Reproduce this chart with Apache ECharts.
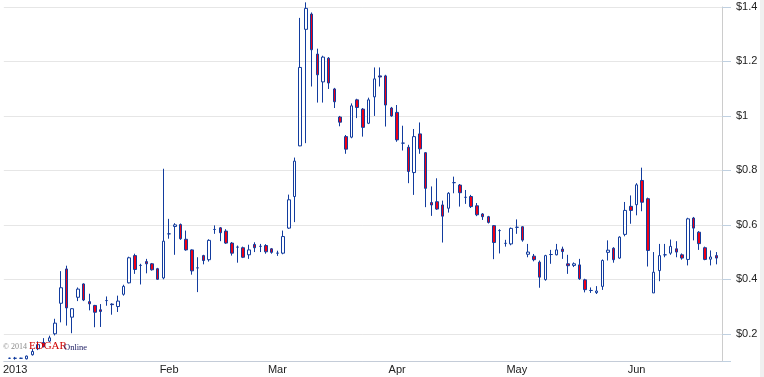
<!DOCTYPE html>
<html>
<head>
<meta charset="utf-8">
<title>Stock candles 2013</title>
<script src="https://cdn.jsdelivr.net/npm/echarts@6/dist/echarts.min.js"></script>
<style>
  html, body { margin: 0; padding: 0; background: #fff; }
  #chart { width: 764px; height: 377px; }
</style>
</head>
<body>
<div id="chart"></div>
<script>
// trading-day candles, index 0 = first session of 2013
let opens = [
  0.110, 0.110, 0.110, 0.108, 0.123, 0.145, 0.168, 0.173, 0.200, 0.312,
  0.438, 0.261, 0.334, 0.383, 0.318, 0.304, 0.288, 0.322, 0.309, 0.300,
  0.345, 0.387, 0.487, 0.451, 0.465, 0.457, 0.439, 0.405, 0.567, 0.594,
  0.601, 0.547, 0.508, 0.442, 0.487, 0.472, 0.583, 0.589, 0.577, 0.533,
  0.518, 0.516, 0.490, 0.528, 0.521, 0.524, 0.512, 0.496, 0.496, 0.588,
  0.704, 0.890, 1.318, 1.374, 1.227, 1.125, 1.212, 1.099, 0.996, 0.924,
  0.922, 1.059, 1.025, 0.973, 1.070, 1.147, 1.147, 1.029, 1.013, 0.900,
  0.885, 0.792, 0.934, 0.865, 0.682, 0.685, 0.673, 0.661, 0.755, 0.746,
  0.701, 0.704, 0.670, 0.640, 0.630, 0.597, 0.579, 0.532, 0.530, 0.591,
  0.593, 0.492, 0.485, 0.463, 0.399, 0.491, 0.490, 0.511, 0.457, 0.451,
  0.453, 0.398, 0.359, 0.351, 0.374, 0.499, 0.514, 0.478, 0.565, 0.668,
  0.674, 0.763, 0.696, 0.350, 0.432, 0.490, 0.496, 0.512, 0.490, 0.473,
  0.625, 0.573, 0.516, 0.474, 0.487
];
let closes = [
  0.110, 0.110, 0.110, 0.118, 0.135, 0.160, 0.153, 0.185, 0.239, 0.369,
  0.295, 0.292, 0.364, 0.324, 0.310, 0.279, 0.282, 0.322, 0.307, 0.320,
  0.374, 0.479, 0.436, 0.451, 0.457, 0.435, 0.400, 0.540, 0.567, 0.600,
  0.549, 0.508, 0.431, 0.442, 0.469, 0.543, 0.583, 0.571, 0.533, 0.496,
  0.518, 0.481, 0.508, 0.516, 0.521, 0.501, 0.499, 0.496, 0.557, 0.692,
  0.834, 1.178, 1.395, 1.243, 1.151, 1.216, 1.121, 1.052, 0.977, 0.878,
  1.037, 1.031, 0.958, 1.059, 1.136, 1.143, 1.040, 1.000, 0.912, 0.900,
  0.796, 0.924, 0.879, 0.734, 0.673, 0.658, 0.632, 0.716, 0.755, 0.718,
  0.701, 0.667, 0.637, 0.630, 0.609, 0.535, 0.579, 0.532, 0.587, 0.591,
  0.544, 0.500, 0.472, 0.408, 0.487, 0.491, 0.508, 0.502, 0.450, 0.457,
  0.402, 0.362, 0.359, 0.357, 0.469, 0.507, 0.472, 0.555, 0.653, 0.653,
  0.747, 0.683, 0.506, 0.426, 0.487, 0.490, 0.521, 0.500, 0.478, 0.622,
  0.588, 0.531, 0.473, 0.482, 0.478
];
let lows = [
  0.108, 0.105, 0.108, 0.106, 0.120, 0.140, 0.150, 0.170, 0.194, 0.242,
  0.230, 0.202, 0.320, 0.320, 0.286, 0.224, 0.225, 0.303, 0.270, 0.280,
  0.340, 0.385, 0.420, 0.381, 0.422, 0.432, 0.398, 0.400, 0.549, 0.490,
  0.545, 0.505, 0.417, 0.353, 0.455, 0.465, 0.567, 0.540, 0.530, 0.487,
  0.461, 0.478, 0.475, 0.500, 0.500, 0.494, 0.494, 0.486, 0.492, 0.585,
  0.610, 0.889, 0.900, 1.108, 1.049, 1.049, 1.099, 1.029, 0.962, 0.861,
  0.918, 0.992, 0.924, 0.970, 1.000, 1.108, 0.961, 0.997, 0.905, 0.873,
  0.753, 0.710, 0.861, 0.665, 0.633, 0.655, 0.535, 0.645, 0.716, 0.667,
  0.677, 0.662, 0.632, 0.618, 0.605, 0.474, 0.495, 0.520, 0.525, 0.567,
  0.538, 0.481, 0.466, 0.369, 0.395, 0.457, 0.488, 0.475, 0.420, 0.445,
  0.398, 0.352, 0.350, 0.346, 0.361, 0.469, 0.461, 0.475, 0.558, 0.604,
  0.635, 0.650, 0.447, 0.350, 0.393, 0.481, 0.490, 0.481, 0.472, 0.451,
  0.543, 0.508, 0.470, 0.451, 0.455
];
let highs = [
  0.112, 0.115, 0.112, 0.120, 0.144, 0.172, 0.184, 0.193, 0.255, 0.430,
  0.450, 0.294, 0.370, 0.385, 0.347, 0.306, 0.309, 0.337, 0.312, 0.340,
  0.380, 0.483, 0.494, 0.457, 0.475, 0.460, 0.442, 0.806, 0.622, 0.606,
  0.605, 0.579, 0.510, 0.481, 0.490, 0.547, 0.598, 0.592, 0.584, 0.537,
  0.524, 0.520, 0.527, 0.536, 0.530, 0.529, 0.515, 0.505, 0.579, 0.711,
  0.847, 1.360, 1.417, 1.380, 1.247, 1.221, 1.216, 1.103, 1.000, 0.930,
  1.046, 1.063, 1.029, 1.067, 1.178, 1.178, 1.151, 1.033, 1.040, 0.964,
  0.894, 0.952, 0.976, 0.867, 0.741, 0.771, 0.689, 0.720, 0.777, 0.750,
  0.728, 0.710, 0.680, 0.643, 0.633, 0.599, 0.584, 0.545, 0.590, 0.620,
  0.595, 0.530, 0.493, 0.469, 0.490, 0.508, 0.530, 0.520, 0.490, 0.462,
  0.475, 0.402, 0.370, 0.375, 0.473, 0.543, 0.518, 0.558, 0.684, 0.708,
  0.753, 0.810, 0.700, 0.500, 0.530, 0.530, 0.546, 0.540, 0.495, 0.626,
  0.629, 0.577, 0.520, 0.506, 0.500
];

// month labels on the time axis (session index where each label sits)
let monthPos = [1, 28, 47, 68, 89, 110];
let monthNames = ['2013', 'Feb', 'Mar', 'Apr', 'May', 'Jun'];

let candles = opens.map((o, i) => [i, o, closes[i], lows[i], highs[i]]);

let blue = '#123c9e';
let chart = echarts.init(document.getElementById('chart'), null, { renderer: 'canvas' });

chart.setOption({
  animation: false,
  backgroundColor: '#fff',
  grid: { left: 0, right: 42, top: 7, bottom: 16 },
  xAxis: {
    type: 'value',
    min: -1,
    max: opens.length,
    interval: 1,
    axisLine: { show: true, onZero: false, lineStyle: { color: '#c4ccd8', width: 1 } },
    axisTick: { show: false },
    splitLine: { show: false },
    axisLabel: {
      margin: 3,
      fontSize: 11,
      fontFamily: 'Liberation Sans, Arial, sans-serif',
      color: '#222',
      formatter: function (v) {
        let k = monthPos.indexOf(Math.round(v));
        return (k >= 0 && Math.abs(v - monthPos[k]) < 0.01) ? monthNames[k] : '';
      }
    }
  },
  yAxis: {
    type: 'value',
    position: 'right',
    min: 0.1,
    max: 1.4,
    splitNumber: 6,
    axisLine: { show: true, onZero: false, lineStyle: { color: '#cccccc', width: 1 } },
    axisTick: { show: true, length: 9, lineStyle: { color: '#c0d0e0' } },
    splitLine: { show: true, lineStyle: { color: '#e6e6e6', width: 1 } },
    axisLabel: {
      margin: 14,
      fontSize: 11,
      fontFamily: 'Liberation Sans, Arial, sans-serif',
      color: '#222',
      formatter: function (v) {
        if (v < 0.15) return '';
        return '$' + (+v.toFixed(1));
      }
    }
  },
  series: [{
    type: 'candlestick',
    data: candles,
    encode: { x: 0, y: [1, 2, 3, 4] },
    barWidth: 3,
    clip: false,
    itemStyle: {
      color: '#ffffff',
      color0: '#ee0016',
      borderColor: blue,
      borderColor0: blue,
      borderWidth: 1
    }
  }],
  graphic: [
    { type: 'rect', right: 0, top: 0, z: 100, shape: { width: 4, height: 377 }, style: { fill: '#f0f0f0' } },
    { type: 'text', left: 3, top: 343, z: 100, style: { text: '© 2014', fill: '#8a8a8a', font: '8px "Liberation Serif", serif' } },
    { type: 'text', left: 29, top: 341, z: 100, style: { text: 'EDGAR', fill: '#d00000', font: '11px "Liberation Serif", serif' } },
    { type: 'text', left: 64, top: 343, z: 100, style: { text: 'Online', fill: '#222266', font: '8.5px "Liberation Serif", serif' } }
  ]
});
</script>
</body>
</html>
